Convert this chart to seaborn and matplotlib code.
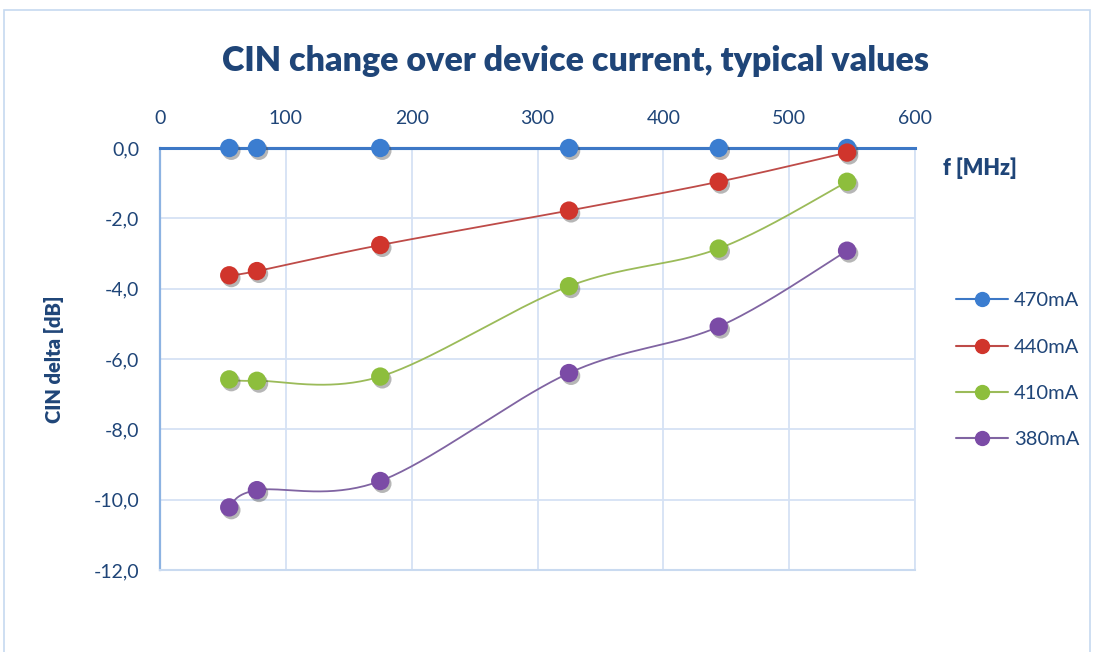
import numpy as np
import pandas as pd
import matplotlib
matplotlib.use("Agg")
import matplotlib.pyplot as plt
import matplotlib.patheffects as pe
from matplotlib.lines import Line2D
from matplotlib.patches import Rectangle
from matplotlib.ticker import FuncFormatter, MultipleLocator
import seaborn as sns

# ── Data ──────────────────────────────────────────────────────────────────────
freq_mhz = [55, 77, 175, 325, 444, 546]
cin_470 = [0.0, 0.0, 0.0, 0.0, 0.0, 0.0]
cin_440 = [-3.62, -3.50, -2.76, -1.78, -0.96, -0.13]
cin_410 = [-6.58, -6.62, -6.50, -3.93, -2.86, -0.96]
cin_380 = [-10.22, -9.73, -9.47, -6.40, -5.08, -2.92]
series_names = ["470mA", "440mA", "410mA", "380mA"]

line_colors = ["#3D78C6", "#BE4B48", "#9BBB59", "#8064A2"]
marker_colors = ["#3B7DD0", "#D0352C", "#8DBE3C", "#7B4BA6"]
text_color = "#1F4578"


def smooth(x, y, n=40):
    """Excel-like smoothed line (cubic Bezier, Catmull-Rom control points)."""
    p = np.column_stack([x, y]).astype(float)
    ext = np.vstack([p[0], p, p[-1]])
    t = np.linspace(0, 1, n)[:, None]
    out = []
    for i in range(len(p) - 1):
        p0, p1, p2, p3 = ext[i], ext[i + 1], ext[i + 2], ext[i + 3]
        c1 = p1 + (p2 - p0) / 6
        c2 = p2 - (p3 - p1) / 6
        seg = ((1 - t) ** 3) * p1 + 3 * ((1 - t) ** 2) * t * c1 \
            + 3 * (1 - t) * t ** 2 * c2 + t ** 3 * p2
        out.append(seg if i == 0 else seg[1:])
    out = np.vstack(out)
    return out[:, 0], out[:, 1]


df = pd.DataFrame({
    "freq": freq_mhz * 4,
    "cin": cin_470 + cin_440 + cin_410 + cin_380,
    "current": np.repeat(series_names, len(freq_mhz)),
})

# ── Plot ──────────────────────────────────────────────────────────────────────
sns.set_theme(style="white")
plt.rcParams["font.family"] = ["Lato", "DejaVu Sans"]

fig = plt.figure(figsize=(10.94, 6.52), dpi=100)
ax = fig.add_axes([0.1463, 0.1258, 0.6901, 0.6472])

shadow = [pe.SimplePatchShadow(offset=(1.5, -2), alpha=0.4, shadow_rgbFace="#4a4a4a"), pe.Normal()]

for name, lc, lw in zip(series_names, line_colors, [2.2, 1.3, 1.3, 1.3]):
    sub = df[df["current"] == name]
    xs, ys = smooth(sub["freq"].values, sub["cin"].values)
    ax.plot(xs, ys, color=lc, lw=lw, zorder=3, clip_on=False)

sc = sns.scatterplot(data=df, x="freq", y="cin", hue="current",
                     palette=dict(zip(series_names, marker_colors)),
                     s=175, edgecolor="none", legend=False, ax=ax, zorder=4)
for coll in ax.collections:
    coll.set_clip_on(False)
    coll.set_path_effects(shadow)

ax.set_xlim(0, 600)
ax.set_ylim(-12, 0)
ax.xaxis.set_major_locator(MultipleLocator(100))
ax.yaxis.set_major_locator(MultipleLocator(2))
ax.yaxis.set_major_formatter(FuncFormatter(lambda v, _: f"{v:.1f}".replace(".", ",").replace("-0,0", "0,0")))
ax.xaxis.tick_top()
ax.tick_params(axis="both", length=0, labelsize=14, labelcolor=text_color, pad=15)
ax.grid(True, color="#D5E2F4", lw=1.3)
ax.set_axisbelow(True)
for side, col, w in [("left", "#8DB3E2", 1.6), ("bottom", "#C9DAF0", 1.5),
                     ("right", "#D5E2F4", 1.3), ("top", "#3D78C6", 2.2)]:
    ax.spines[side].set_color(col)
    ax.spines[side].set_linewidth(w)
ax.set_xlabel("")
ax.set_ylabel("CIN delta [dB]", fontsize=14.5, fontweight=800, color=text_color, labelpad=21)

fig.text(0.5265, 0.906, "CIN change over device current, typical values",
         ha="center", va="center", fontsize=24.5, fontweight=800, color=text_color)
fig.text(0.862, 0.742, "f [MHz]", ha="left", va="center",
         fontsize=15.5, fontweight=800, color=text_color)

handles = [Line2D([0], [0], color=lc, lw=1.5, marker="o", markersize=10,
                  markerfacecolor=mc, markeredgecolor=mc)
           for lc, mc in zip(line_colors, marker_colors)]
leg = fig.legend(handles, series_names, loc="center left", bbox_to_anchor=(0.857, 0.432),
                 frameon=False, fontsize=14.5, handlelength=2.6, labelspacing=1.45,
                 handletextpad=0.3)
for t in leg.get_texts():
    t.set_color(text_color)

# outer chart border
fig.patches.append(Rectangle((0.004, -0.02), 0.992, 1.005, transform=fig.transFigure,
                             fill=False, edgecolor="#C6D9F0", lw=1.2))

fig.savefig("out.png", dpi=100)
